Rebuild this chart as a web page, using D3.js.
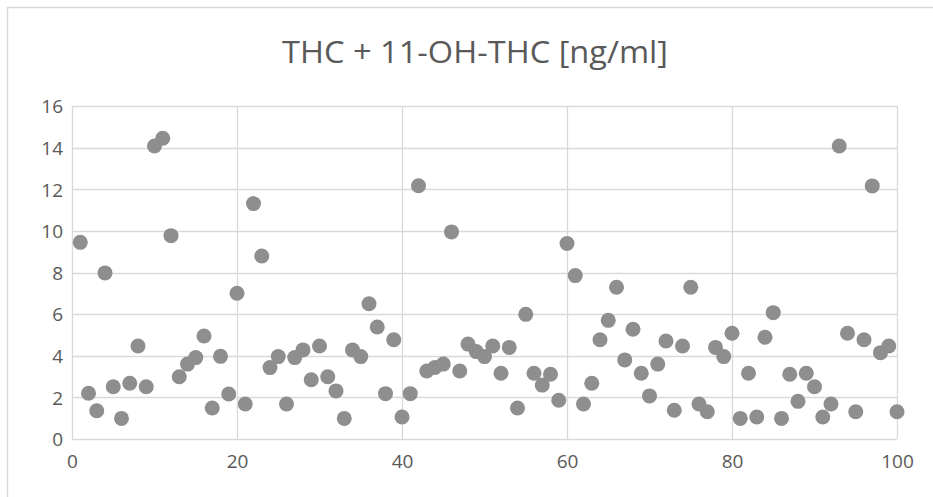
<!DOCTYPE html>
<html>
<head>
<meta charset="utf-8">
<script src="https://cdn.jsdelivr.net/npm/d3@7"></script>
<style>
  html, body { margin: 0; padding: 0; background: #fff; }
  svg { display: block; }
</style>
</head>
<body>
<div id="chart"></div>
<script>
const title = "THC + 11-OH-THC [ng/ml]";

// sample index 1..100
const sampleIds = d3.range(1, 101);
// THC + 11-OH-THC
const thcValues = [
  9.45, 2.2, 1.36, 7.98, 2.51, 0.99, 2.68, 4.47, 2.51, 14.08,
  14.45, 9.77, 2.99, 3.6, 3.91, 4.95, 1.49, 3.97, 2.16, 7.0,
  1.68, 11.31, 8.79, 3.43, 3.96, 1.68, 3.91, 4.28, 2.85, 4.47,
  2.99, 2.31, 0.99, 4.28, 3.96, 6.5, 5.38, 2.18, 4.77, 1.06,
  2.18, 12.17, 3.27, 3.44, 3.6, 9.95, 3.27, 4.56, 4.2, 3.96,
  4.47, 3.16, 4.4, 1.49, 5.99, 3.16, 2.59, 3.11, 1.86, 9.39,
  7.85, 1.68, 2.68, 4.77, 5.7, 7.29, 3.8, 5.27, 3.16, 2.07,
  3.6, 4.71, 1.38, 4.47, 7.29, 1.68, 1.31, 4.4, 3.96, 5.08,
  0.99, 3.16, 1.06, 4.89, 6.07, 0.99, 3.11, 1.81, 3.16, 2.51,
  1.06, 1.68, 14.08, 5.08, 1.31, 4.77, 12.16, 4.15, 4.47, 1.31
];
const xTicks = [0, 20, 40, 60, 80, 100];
const yTicks = [0, 2, 4, 6, 8, 10, 12, 14, 16];

const W = 933, H = 497;
const margin = { left: 72, right: 36, top: 106, bottom: 58 };

const svg = d3.select('#chart').append('svg')
  .attr('width', W)
  .attr('height', H);

// chart area frame
svg.append('rect')
  .attr('x', 7.5).attr('y', 7.5)
  .attr('width', W + 20).attr('height', H + 20)
  .attr('fill', '#fff')
  .attr('stroke', '#d9d9d9')
  .attr('stroke-width', 1.5);

const x = d3.scaleLinear().domain([0, 100]).range([margin.left, W - margin.right]);
const y = d3.scaleLinear().domain([0, 16]).range([H - margin.bottom, margin.top]);

// gridlines
const grid = svg.append('g').attr('stroke', '#d9d9d9').attr('stroke-width', 1.3);
grid.selectAll('.hy').data(yTicks).enter().append('line')
  .attr('x1', x(0)).attr('x2', x(100))
  .attr('y1', d => Math.round(y(d)) + 0.5).attr('y2', d => Math.round(y(d)) + 0.5);
grid.selectAll('.vx').data(xTicks).enter().append('line')
  .attr('y1', y(0)).attr('y2', y(16))
  .attr('x1', d => Math.round(x(d)) + 0.5).attr('x2', d => Math.round(x(d)) + 0.5);

// axes (labels only, Excel style)
const yAxis = svg.append('g')
  .attr('transform', `translate(${x(0) - 9},0)`)
  .call(d3.axisLeft(y).tickValues(yTicks).tickSize(0).tickPadding(0));
yAxis.select('.domain').remove();
yAxis.selectAll('text')
  .attr('font-family', 'Open Sans, sans-serif')
  .attr('font-size', 19)
  .attr('fill', '#595959')
  .attr('dy', '0.36em');

const xAxis = svg.append('g')
  .attr('transform', `translate(0,${y(0) + 22})`)
  .call(d3.axisBottom(x).tickValues(xTicks).tickSize(0).tickPadding(0).tickFormat(d3.format('d')));
xAxis.select('.domain').remove();
xAxis.selectAll('text')
  .attr('font-family', 'Open Sans, sans-serif')
  .attr('font-size', 19)
  .attr('fill', '#595959')
  .attr('dy', '0.36em');

// dots
svg.append('g').selectAll('circle')
  .data(sampleIds)
  .enter()
  .append('circle')
  .attr('cx', (d) => x(d))
  .attr('cy', (d, i) => y(thcValues[i]))
  .attr('r', 7.5)
  .attr('fill', '#8e8e8e');

// title
svg.append('text')
  .attr('x', 475).attr('y', 63)
  .attr('text-anchor', 'middle')
  .attr('font-family', 'Open Sans, sans-serif')
  .attr('font-size', 31)
  .attr('fill', '#595959')
  .attr('textLength', 386)
  .attr('lengthAdjust', 'spacingAndGlyphs')
  .text(title);
</script>
</body>
</html>
